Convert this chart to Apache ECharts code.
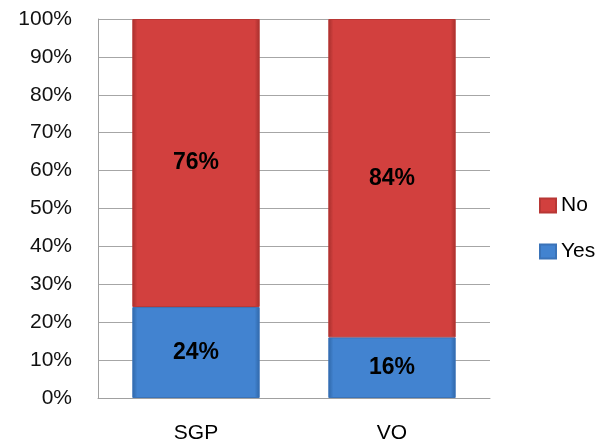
<!DOCTYPE html>
<html><head><meta charset="utf-8">
<script src="https://cdn.jsdelivr.net/npm/echarts@6/dist/echarts.min.js"></script>
<style>html,body{margin:0;padding:0;background:#fff}#c{width:599px;height:445px}</style>
</head><body><div id="c"></div>
<script>
const categories = ['SGP', 'VO'];
const yesValues = [24, 16];
const noValues = [76, 84];
const seriesNames = ['Yes', 'No'];

function grad(edge, base) {
  return new echarts.graphic.LinearGradient(0, 0, 1, 0, [
    {offset: 0, color: edge}, {offset: 0.04, color: base},
    {offset: 0.96, color: base}, {offset: 1, color: edge}
  ]);
}
const FONT = 'Liberation Sans';
const chart = echarts.init(document.getElementById('c'));
chart.setOption({
  animation: false,
  textStyle: {fontFamily: FONT},
  grid: {left: 98, right: 109, top: 19, bottom: 47},
  legend: {
    orient: 'vertical', left: 534, top: 190, itemGap: 25,
    itemWidth: 16, itemHeight: 14, icon: 'rect',
    data: ['No', 'Yes'],
    textStyle: {fontSize: 21, color: '#000', fontFamily: FONT, padding: [0, 0, 0, 0]}
  },
  xAxis: {
    type: 'category', data: categories,
    axisLine: {lineStyle: {color: '#a0a0a0', width: 1}},
    axisTick: {show: false},
    axisLabel: {fontSize: 21, color: '#000', margin: 25}
  },
  yAxis: {
    type: 'value', min: 0, max: 100, interval: 10,
    axisLine: {show: true, lineStyle: {color: '#a0a0a0'}},
    axisTick: {show: false},
    splitLine: {lineStyle: {color: '#a6a6a6'}},
    axisLabel: {fontSize: 21, color: '#111', margin: 26, formatter: '{value}%'}
  },
  series: [
    {
      name: 'Yes', type: 'bar', stack: 's', data: yesValues, barWidth: '65%',
      itemStyle: {color: grad('#2f67a8', '#4283d0'), borderColor: '#3a73b8', borderWidth: 1},
      label: {show: true, position: 'inside', formatter: '{c}%', fontSize: 23, fontWeight: 'bold', color: '#000'}
    },
    {
      name: 'No', type: 'bar', stack: 's', data: noValues, barWidth: '65%',
      itemStyle: {color: grad('#a62f2d', '#d2403e'), borderColor: '#b83735', borderWidth: 1},
      label: {show: true, position: 'inside', formatter: '{c}%', fontSize: 23, fontWeight: 'bold', color: '#000'}
    }
  ]
});
</script></body></html>
